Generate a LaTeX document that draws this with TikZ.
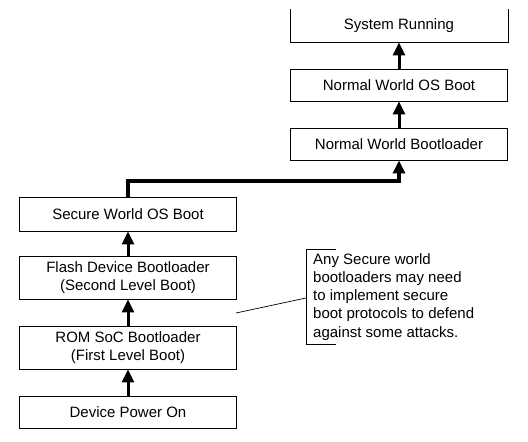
\documentclass[tikz,border=0pt]{standalone}
\usepackage{fontspec}
\setmainfont{Liberation Sans}
\usetikzlibrary{arrows.meta}
\tikzset{
  box/.style={draw=black, line width=0.9pt, minimum width=217pt, inner sep=0pt, align=center, font=\fontsize{15}{18}\selectfont},
  flow/.style={line width=3pt, -{Triangle[length=13pt,width=12pt]}},
  trunk/.style={line width=4pt, -{Triangle[length=13pt,width=12pt]}},
  thin/.style={line width=0.7pt}
}
\begin{document}
\begin{tikzpicture}[x=1pt,y=-1pt]
\useasboundingbox (0,0) rectangle (528,442);
% right column
\node[box, draw=none, minimum height=33pt] (sr) at (399,25.5) {System Running};
\draw[line width=0.9pt] (sr.north west) -- (sr.south west) -- (sr.south east) -- (sr.north east);
\node[box, minimum height=32pt] (nwos) at (399,85) {Normal World OS Boot};
\node[box, minimum height=32pt] (nwbl) at (399,144) {Normal World Bootloader};
% left column
\node[box, minimum height=34pt] (swos) at (128,214) {Secure World OS Boot};
\node[box, minimum height=43pt] (flash) at (128,277.5) {Flash Device Bootloader\\(Second Level Boot)};
\node[box, minimum height=43pt] (rom) at (128,347.5) {ROM SoC Bootloader\\(First Level Boot)};
\node[box, minimum height=32pt] (dpo) at (128,412) {Device Power On};
% arrows
\draw[flow] (dpo.north) -- (rom.south);
\draw[flow] (rom.north) -- (flash.south);
\draw[flow] (flash.north) -- (swos.south);
\draw[flow] (nwbl.north) -- (nwos.south);
\draw[flow] (nwos.north) -- (sr.south);
\coordinate (bendA) at (128,181);
\coordinate (bendB) at (399,181);
\draw[trunk] (swos.north) -- (bendA) -- (bendB) -- (nwbl.south);
% callout
\node[anchor=north west, inner sep=0pt, align=left, font=\fontsize{15}{18.3}\selectfont] (note) at (313,253)
  {Any Secure world\\bootloaders may need\\to implement secure\\boot protocols to defend\\against some attacks.};
\coordinate (brT) at (306,249);
\coordinate (brB) at (306,344);
\coordinate (brM) at (306,298);
\coordinate (leadA) at (236,313);
\draw[thin] (336,249) -- (brT) -- (brB) -- (336,344);
\draw[thin] (leadA) -- (brM);
\end{tikzpicture}
\end{document}
